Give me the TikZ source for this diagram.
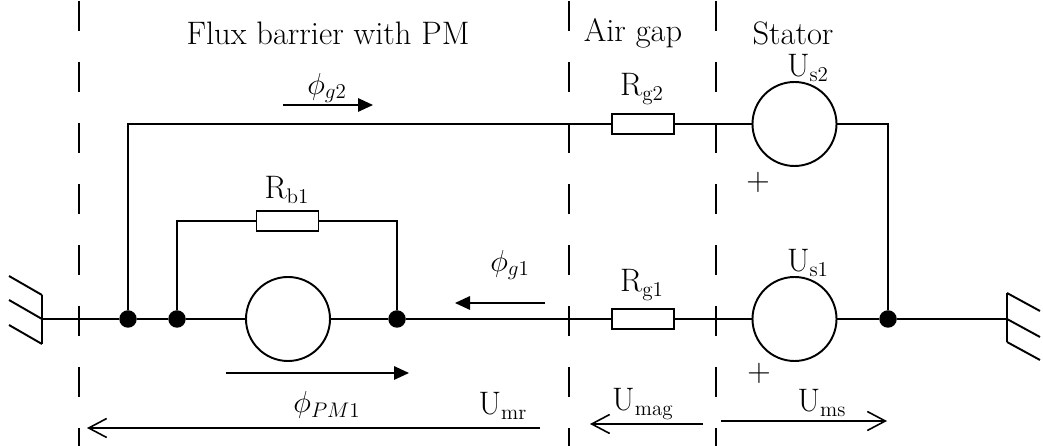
\documentclass[tikz,border=0pt]{standalone}
\usetikzlibrary{arrows.meta}
\tikzset{
  wire/.style={line width=1.1pt},
  resbox/.style={draw, line width=1.1pt, fill=white, minimum width=1.24cm, minimum height=0.4cm, inner sep=0pt},
  srccirc/.style={draw, circle, line width=1.1pt, fill=white, minimum size=1.68cm, inner sep=0pt},
  junc/.style={circle, fill=black, minimum size=0.35cm, inner sep=0pt},
  zoneline/.style={line width=1.1pt, dash pattern=on 0.6cm off 0.62cm},
  fluxarrow/.style={-{Triangle[length=0.3cm,width=0.27cm]}, line width=0.9pt},
  mmfarrow/.style={-{Straight Barb[length=0.36cm,width=0.38cm]}, line width=0.9pt},
  lbl/.style={font=\fontsize{18.5}{22}\selectfont, inner sep=0pt}
}
\begin{document}
\begin{tikzpicture}
    \useasboundingbox (0,0) rectangle (20.86,8.92);
    % Zone borders
    \foreach \x in {1.58,11.38,14.32}
        \draw[zoneline] (\x,8.9) -- (\x,0);

    % Zone titles
    \node[lbl] (tflux) at (6.56,8.26) {Flux barrier with PM};
    \node[lbl] (tgap) at (12.66,8.26) {Air gap};
    \node[lbl] (tstat) at (15.86,8.26) {Stator};

    % Components
    \node[resbox] (rbone) at (5.75,4.5) {};
    \node[srccirc] (pm) at (5.76,2.54) {};
    \node[resbox] (rgtwo) at (12.86,6.44) {};
    \node[resbox] (rgone) at (12.86,2.54) {};
    \node[srccirc] (ustwo) at (15.89,6.44) {};
    \node[srccirc] (usone) at (15.89,2.54) {};

    % Junctions
    \node[junc] (ja) at (2.56,2.54) {};
    \node[junc] (jb) at (3.54,2.54) {};
    \node[junc] (jc) at (7.94,2.54) {};
    \node[junc] (jd) at (17.76,2.54) {};
    \coordinate (gl) at (0.84,2.54);
    \coordinate (gr) at (20.14,2.54);

    % Wires
    \draw[wire] (gl) -- (ja) -- (jb) -- (pm) -- (jc) -- (rgone) -- (usone) -- (jd) -- (gr);
    \draw[wire] (ja) |- (rgtwo);
    \draw[wire] (rgtwo) -- (ustwo) -| (jd);
    \draw[wire] (jb) |- (rbone) -| (jc);

    % Grounds
    \draw[wire] ([yshift=0.48cm]gl) -- ([yshift=-0.5cm]gl);
    \foreach \dy in {0.48,0,-0.5}
        \draw[wire] ([yshift=\dy cm]gl) -- ++(-0.66,0.38);
    \draw[wire] ([yshift=0.52cm]gr) -- ([yshift=-0.46cm]gr);
    \foreach \dy in {0.52,0,-0.46}
        \draw[wire] ([yshift=\dy cm]gr) -- ++(0.66,-0.36);

    % Component labels
    \node[lbl] (lrbone) at (5.74,5.12) {R$_{\mathrm{b1}}$};
    \node[lbl] (lrgtwo) at (12.84,7.14) {R$_{\mathrm{g2}}$};
    \node[lbl] (lrgone) at (12.84,3.22) {R$_{\mathrm{g1}}$};
    \node[lbl] (lustwo) at (16.16,7.56) {U$_{\mathrm{s2}}$};
    \node[lbl] (lusone) at (16.16,3.66) {U$_{\mathrm{s1}}$};
    \node[lbl] (ptwo) at (15.16,5.28) {+};
    \node[lbl] (pone) at (15.18,1.46) {+};

    % Fluxes
    \node[lbl] (lfgtwo) at (6.54,7.16) {$\phi_{g2}$};
    \draw[fluxarrow] (5.66,6.82) -- (7.46,6.82);
    \node[lbl] (lfgone) at (10.2,3.62) {$\phi_{g1}$};
    \draw[fluxarrow] (10.9,2.86) -- (9.1,2.86);
    \node[lbl] (lfpm) at (6.54,0.82) {$\phi_{PM1}$};
    \draw[fluxarrow] (4.52,1.46) -- (8.18,1.46);

    % MMF drops
    \node[lbl] (lumr) at (10.06,0.8) {U$_{\mathrm{mr}}$};
    \draw[mmfarrow] (10.8,0.36) -- (1.74,0.36);
    \node[lbl] (lumag) at (12.86,0.84) {U$_{\mathrm{mag}}$};
    \draw[mmfarrow] (14.06,0.44) -- (11.8,0.44);
    \node[lbl] (lums) at (16.44,0.86) {U$_{\mathrm{ms}}$};
    \draw[mmfarrow] (14.42,0.5) -- (17.74,0.5);
\end{tikzpicture}
\end{document}
